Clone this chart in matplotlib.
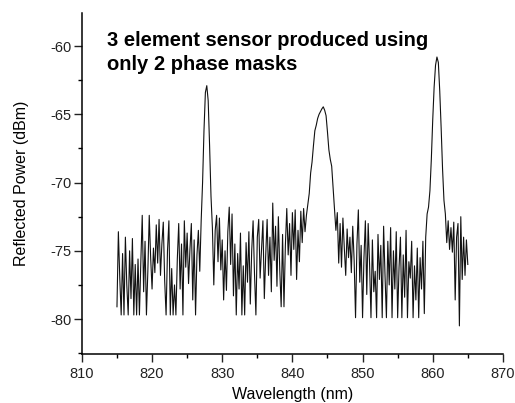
import numpy as np
import matplotlib
matplotlib.use("Agg")
import matplotlib.pyplot as plt
from matplotlib.ticker import MultipleLocator

plt.rcParams['font.family'] = ['Liberation Sans', 'DejaVu Sans']
plt.rcParams['axes.unicode_minus'] = False

# spectrum sampled every 0.2 nm from 815.0 nm, one row per nm
start_nm = 815.0
step_nm = 0.2
power_dbm = [
    -79.1, -73.6, -77.0, -79.7, -75.2,   # 815
    -79.7, -74.0, -77.5, -79.7, -75.0,   # 816
    -78.5, -74.1, -79.7, -76.0, -79.7,   # 817
    -75.6, -79.7, -75.8, -72.4, -78.0,   # 818
    -74.3, -79.7, -76.5, -72.4, -75.5,   # 819
    -77.8, -74.8, -76.6, -73.1, -75.9,   # 820
    -72.7, -76.8, -74.5, -72.9, -77.2,   # 821
    -79.7, -75.0, -72.8, -79.7, -76.3,   # 822
    -79.7, -77.5, -79.7, -75.6, -73.0,   # 823
    -77.8, -74.5, -79.7, -72.8, -76.2,   # 824
    -73.7, -77.4, -74.9, -73.0, -78.6,   # 825
    -74.2, -79.7, -75.3, -73.5, -76.5,   # 826
    -72.8, -70.0, -66.2, -63.4, -62.9,   # 827
    -64.0, -67.3, -71.0, -73.3, -77.5,   # 828
    -73.5, -72.4, -75.8, -72.6, -76.4,   # 829
    -74.2, -78.6, -75.0, -77.9, -73.6,   # 830
    -71.8, -76.0, -72.3, -78.3, -74.5,   # 831
    -79.7, -75.2, -77.8, -73.7, -79.7,   # 832
    -76.1, -79.7, -74.4, -77.3, -73.6,   # 833
    -78.9, -75.0, -72.8, -76.7, -79.7,   # 834
    -74.0, -72.7, -77.0, -74.9, -72.8,   # 835
    -78.5, -75.3, -72.7, -76.8, -74.0,   # 836
    -78.0, -71.5, -75.7, -73.2, -77.6,   # 837
    -72.5, -76.4, -79.1, -73.8, -79.1,   # 838
    -74.6, -71.9, -75.3, -73.0, -76.8,   # 839
    -72.2, -74.9, -72.0, -77.1, -73.5,   # 840
    -75.8, -72.1, -74.4, -71.9, -73.6,   # 841
    -72.4, -71.6, -70.8, -69.3, -68.5,   # 842
    -67.3, -66.2, -65.8, -65.3, -65.0,   # 843
    -64.8, -64.6, -64.45, -64.7, -65.1,  # 844
    -66.3, -67.6, -68.3, -68.8, -70.4,   # 845
    -72.0, -73.5, -72.2, -75.9, -73.0,   # 846
    -76.2, -72.6, -74.8, -76.8, -73.4,   # 847
    -75.5, -74.0, -76.6, -73.2, -75.7,   # 848
    -79.9, -74.5, -72.0, -77.3, -74.6,   # 849
    -79.9, -75.5, -72.8, -78.2, -73.0,   # 850
    -76.0, -79.9, -74.2, -78.0, -76.5,   # 851
    -79.9, -73.8, -77.1, -74.6, -79.9,   # 852
    -73.2, -76.8, -79.9, -74.3, -77.5,   # 853
    -73.3, -79.9, -75.0, -77.8, -73.6,   # 854
    -79.9, -76.2, -74.0, -79.9, -75.3,   # 855
    -78.4, -73.5, -79.9, -75.8, -77.0,   # 856
    -74.3, -79.9, -76.1, -78.6, -74.8,   # 857
    -79.9, -75.5, -77.8, -74.3, -79.6,   # 858
    -74.0, -72.3, -71.8, -70.6, -68.3,   # 859
    -65.4, -63.0, -61.4, -60.8, -61.2,   # 860
    -63.3, -66.0, -69.0, -71.3, -72.3,   # 861
    -74.4, -72.8, -74.9, -73.3, -75.1,   # 862
    -72.9, -78.6, -74.0, -73.0, -80.5,   # 863
    -72.5, -77.1, -74.0, -76.8, -74.2,   # 864
    -76.0,                               # 865
]
x_ticks = [810, 820, 830, 840, 850, 860, 870]
y_ticks = [-80, -75, -70, -65, -60]
title_lines = ["3 element sensor produced using", "only 2 phase masks"]

wavelength = start_nm + step_nm * np.arange(len(power_dbm))

fig = plt.figure(figsize=(5.15, 4.03), dpi=100)
ax = fig.add_axes([0.159, 0.1216, 0.8175, 0.846])

ax.plot(wavelength, power_dbm, color='#111111', lw=0.8)

ax.set_xlim(810, 870)
ax.set_ylim(-82.56, -57.58)
ax.set_xticks(x_ticks)
ax.set_yticks(y_ticks)
ax.xaxis.set_minor_locator(MultipleLocator(5))
ax.yaxis.set_minor_locator(MultipleLocator(2.5))

for side in ['top', 'right']:
    ax.spines[side].set_visible(False)
for side in ['left', 'bottom']:
    ax.spines[side].set_linewidth(1.1)

ax.tick_params(which='major', direction='out', length=5.5, width=1.0,
               labelsize=10.5, colors='#222222')
ax.tick_params(which='minor', direction='out', length=3, width=1.0)
ax.tick_params(axis='x', pad=4)
ax.tick_params(axis='y', pad=2)

ax.set_xlabel("Wavelength (nm)", fontsize=11.5, labelpad=4)
ax.set_ylabel("Reflected Power (dBm)", fontsize=11.5, labelpad=15)

ax.text(813.56, -58.9, "\n".join(title_lines), fontsize=14.5, fontweight='bold',
        va='top', ha='left', linespacing=1.3)

fig.savefig("out.png", dpi=100)
